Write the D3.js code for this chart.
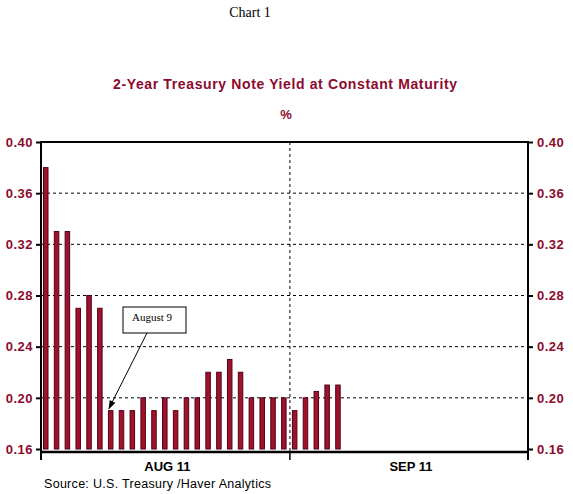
<!DOCTYPE html>
<html>
<head>
<meta charset="utf-8">
<script src="https://cdn.jsdelivr.net/npm/d3@7"></script>
<style>
	body { margin: 0; background: #fff; }
	svg text { font-family: "Liberation Sans", Arial, sans-serif; }
</style>
</head>
<body>
<div id="chart-1"></div>
<script>
// business days shown, Aug 1 2011 onwards
var days = ["Aug 1","Aug 2","Aug 3","Aug 4","Aug 5","Aug 8","Aug 9","Aug 10","Aug 11","Aug 12",
	"Aug 15","Aug 16","Aug 17","Aug 18","Aug 19","Aug 22","Aug 23","Aug 24","Aug 25","Aug 26",
	"Aug 29","Aug 30","Aug 31","Sep 1","Sep 2","Sep 6","Sep 7","Sep 8"]
var yields = [0.38,0.33,0.33,0.27,0.28,0.27,0.19,0.19,0.19,0.20,
	0.19,0.20,0.19,0.20,0.20,0.22,0.22,0.23,0.22,0.20,
	0.20,0.20,0.20,0.19,0.20,0.205,0.21,0.21]
var yTicks = [0.16,0.20,0.24,0.28,0.32,0.36,0.40]
var months = ["AUG 11","SEP 11"]
var monthStart = [0,23,45]   // business-day slot where each month begins (plus end)

var width = 573
var height = 494
var red = "#8c0a2c"

var svg = d3.select("#chart-1")
	.append("svg")
	.attr("width", width)
	.attr("height", height)

var x = d3.scaleLinear().domain([0, 45]).range([41, 528])
var y = d3.scaleLinear().domain([0.16, 0.40]).range([449, 142])
var bottom = y(0.16) + 3

// titles
svg.append("text").attr("x", 250).attr("y", 17)
	.attr("text-anchor", "middle")
	.style("font-family", "'Liberation Serif', 'Times New Roman', serif")
	.style("font-size", "14px")
	.text("Chart 1")

svg.append("text").attr("x", 285).attr("y", 89)
	.attr("text-anchor", "middle")
	.attr("fill", red)
	.style("font-size", "14px")
	.style("font-weight", "bold")
	.attr("textLength", 344)
	.text("2-Year Treasury Note Yield at Constant Maturity")

svg.append("text").attr("x", 286).attr("y", 119)
	.attr("text-anchor", "middle")
	.attr("fill", red)
	.style("font-size", "13px")
	.style("font-weight", "bold")
	.text("%")

// dashed grid
svg.selectAll(".grid")
	.data(yTicks.filter(function(d) { return d > 0.16 && d < 0.40 }))
	.enter()
	.append("line")
	.attr("x1", x(0)).attr("x2", x(45))
	.attr("y1", function(d) { return y(d) }).attr("y2", function(d) { return y(d) })
	.attr("stroke", "#000")
	.attr("stroke-dasharray", "3,3")

svg.append("line")
	.attr("x1", x(monthStart[1])).attr("x2", x(monthStart[1]))
	.attr("y1", y(0.40)).attr("y2", bottom)
	.attr("stroke", "#000")
	.attr("stroke-dasharray", "3,3")

// bars
svg.selectAll(".bar")
	.data(yields)
	.enter()
	.append("rect")
	.attr("x", function(d, i) { return x(i) + 2.5 })
	.attr("y", function(d) { return y(d) })
	.attr("width", 4.5)
	.attr("height", function(d) { return y(0.16) - y(d) })
	.attr("fill", "#a0112e")
	.attr("stroke", "#4e0414")
	.attr("stroke-width", 1)

// frame
svg.append("line").attr("x1", x(0)).attr("x2", x(45)).attr("y1", y(0.40)).attr("y2", y(0.40))
	.attr("stroke", "#000").attr("stroke-width", 2)
svg.append("line").attr("x1", x(0)).attr("x2", x(45)).attr("y1", bottom).attr("y2", bottom)
	.attr("stroke", "#000").attr("stroke-width", 2.5)
svg.append("line").attr("x1", x(0)).attr("x2", x(0)).attr("y1", y(0.40) - 1).attr("y2", bottom + 8)
	.attr("stroke", "#000").attr("stroke-width", 2)
svg.append("line").attr("x1", x(45)).attr("x2", x(45)).attr("y1", y(0.40) - 1).attr("y2", bottom + 8)
	.attr("stroke", "#000").attr("stroke-width", 2)

// y axes, left and right
var leftAxis = d3.axisLeft(y).tickValues(yTicks).tickFormat(d3.format(".2f")).tickSize(5).tickPadding(3)
var rightAxis = d3.axisRight(y).tickValues(yTicks).tickFormat(d3.format(".2f")).tickSize(5).tickPadding(4)

var gl = svg.append("g").attr("transform", "translate(" + x(0) + ",0)").call(leftAxis)
var gr = svg.append("g").attr("transform", "translate(" + x(45) + ",0)").call(rightAxis)
;[gl, gr].forEach(function(g) {
	g.select(".domain").remove()
	g.selectAll(".tick line").attr("stroke", "#000").attr("stroke-width", 2)
	g.selectAll(".tick text")
		.attr("fill", red)
		.style("font-size", "13px")
		.style("font-weight", "bold")
		.style("letter-spacing", "0.5px")
		.style("font-family", "'Liberation Sans', Arial, sans-serif")
})

// month ticks and labels
svg.selectAll(".mtick")
	.data(monthStart)
	.enter()
	.append("line")
	.attr("x1", function(d) { return x(d) }).attr("x2", function(d) { return x(d) })
	.attr("y1", bottom).attr("y2", bottom + 8)
	.attr("stroke", "#000").attr("stroke-width", 1.5)

svg.selectAll(".mlabel")
	.data(months)
	.enter()
	.append("text")
	.attr("x", function(d, i) { return x((monthStart[i] + monthStart[i + 1]) / 2) + 2 })
	.attr("y", 471)
	.attr("text-anchor", "middle")
	.style("font-size", "13px")
	.style("font-weight", "bold")
	.text(function(d) { return d })

svg.append("text").attr("x", 44).attr("y", 488)
	.style("font-size", "12.5px")
	.attr("textLength", 227)
	.text("Source:  U.S. Treasury /Haver Analytics")

// August 9 callout
var aug9 = days.indexOf("Aug 9")
var defs = svg.append("defs")
defs.append("marker")
	.attr("id", "arrow")
	.attr("viewBox", "0 0 10 10")
	.attr("refX", 9).attr("refY", 5)
	.attr("markerWidth", 9).attr("markerHeight", 9)
	.attr("orient", "auto")
	.append("path")
	.attr("d", "M0,1.5 L10,5 L0,8.5 Z")
	.attr("fill", "#000")

svg.append("rect")
	.attr("x", 123).attr("y", 307)
	.attr("width", 63).attr("height", 26)
	.attr("fill", "#fff").attr("stroke", "#000")

svg.append("text")
	.attr("x", 152).attr("y", 321)
	.attr("text-anchor", "middle")
	.style("font-family", "'Liberation Serif', 'Times New Roman', serif")
	.style("font-size", "11px")
	.text("August 9")

svg.append("line")
	.attr("x1", 147).attr("y1", 333)
	.attr("x2", x(aug9) + 3).attr("y2", y(yields[aug9]) - 2)
	.attr("stroke", "#000")
	.attr("marker-end", "url(#arrow)")
</script>
</body>
</html>
